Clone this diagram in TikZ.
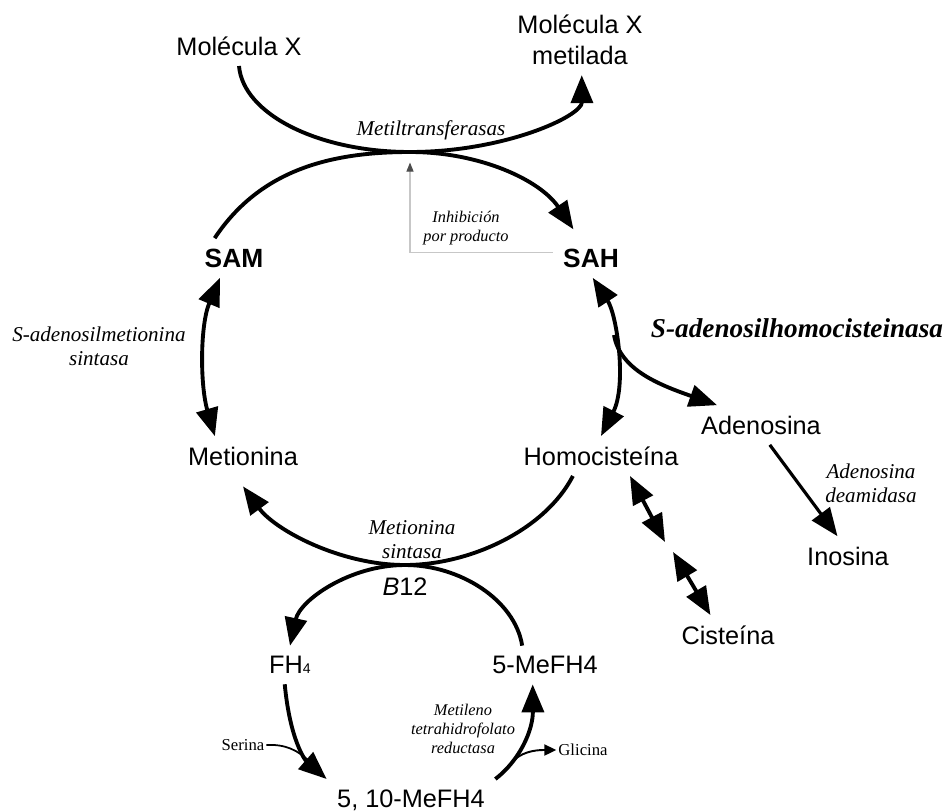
\documentclass[tikz,border=0pt]{standalone}
\usepackage{fontspec}
\setmainfont{Liberation Serif}
\setsansfont{Liberation Sans}
\usetikzlibrary{arrows.meta}

\begin{document}
\begin{tikzpicture}[x=0.02cm, y=-0.02cm,
      metab/.style={font=\sffamily\fontsize{14.4}{17.3}\selectfont,align=center,inner sep=2pt,outer sep=4pt},
      pool/.style={font=\sffamily\bfseries\fontsize{15}{18}\selectfont,inner sep=2pt,outer sep=4pt},
      enzyme/.style={font=\itshape\fontsize{12}{13.6}\selectfont,align=center},
      bigenzyme/.style={font=\bfseries\itshape\fontsize{15.5}{18}\selectfont},
      note/.style={font=\itshape\fontsize{9.3}{11}\selectfont,align=center},
      side/.style={font=\fontsize{9.5}{11}\selectfont,inner sep=1pt},
      flow/.style={line width=2.2pt,-{Triangle[length=5.6mm,width=4.4mm]}},
      both/.style={line width=2.2pt,{Triangle[length=5.6mm,width=4.4mm]}-{Triangle[length=5.6mm,width=4.4mm]}},
      feed/.style={line width=1pt},
      sidearrow/.style={line width=1.1pt,-{Triangle[length=2.4mm,width=2.2mm]}},
      inhib/.style={draw=black!22,line width=0.6pt,-{Triangle[length=1.8mm,width=1.4mm,color=black!70]}}]
    \useasboundingbox (0,0) rectangle (952,811);
    % metabolites
    \node[metab] (molx) at (239,46) {Molécula X};
    \node[metab] (molxm) at (580,40) {Molécula X\\metilada};
    \node[pool] (sam) at (234,258) {SAM};
    \node[pool] (sah) at (591,258) {SAH};
    \node[metab] (met) at (243,456) {Metionina};
    \node[metab] (hcy) at (601,456) {Homocisteína};
    \node[metab] (ado) at (761,425) {Adenosina};
    \node[metab] (ino) at (848,556) {Inosina};
    \node[metab] (cys) at (728,635) {Cisteína};
    \node[metab] (b12) at (405,587) {\textit{B}12};
    \node[metab] (fh4) at (290,665) {FH{\fontsize{8}{9}\selectfont 4}};
    \node[metab] (mefh) at (545,665) {5-MeFH4};
    \node[metab] (mthf) at (411,800) {5, 10-MeFH4};
    \node[side] (ser) at (243,745) {Serina};
    \node[side] (gly) at (583,750) {Glicina};
    % enzymes
    \node[enzyme] (mtase) at (431,130) {Metiltransferasas};
    \node[note] (inh) at (466,228) {Inhibición\\por producto};
    \node[enzyme] (mat) at (99,346) {S-adenosilmetionina\\sintasa};
    \node[bigenzyme] (ahcy) at (797,328) {S-adenosilhomocisteinasa};
    \node[enzyme] (ada) at (871,483) {Adenosina\\deamidasa};
    \node[enzyme] (msyn) at (412,540) {Metionina\\sintasa};
    \node[note] (mthfr) at (463,729) {Metileno\\tetrahidrofolato\\reductasa};
    % meeting points of the arcs
    \coordinate (mt) at (410,152);
    \coordinate (ms) at (405,565);
    \coordinate (br) at (614,335);
    \coordinate (cA) at (665,542);
    \coordinate (cB) at (673,552);
    \coordinate (sj) at (310,762);
    \coordinate (gj) at (514,760);
    % methylation cycle
    \draw[flow] (molx.south) .. controls (243,114) and (318,152) .. (mt) .. controls (505,152) and (582,116) .. ([xshift=1pt]molxm.south);
    \draw[flow] ([xshift=-11pt]sam.north) .. controls (260,170) and (330,152) .. (mt) .. controls (480,152) and (540,180) .. ([shift={(-10pt,5pt)}]sah.north);
    \draw[inhib] ([yshift=3pt]sah.west) -| ([yshift=-6pt]mt);
    \draw[both] ([xshift=-8pt]sam.south) .. controls (200,325) and (200,385) .. ([xshift=-16pt]met.north);
    \draw[both] ([xshift=1pt]sah.south) .. controls (617,315) and (627,385) .. (hcy.north);
    \draw[flow] (br) .. controls (620,370) and (660,385) .. ([xshift=-25pt]ado.north);
    \draw[flow,line width=1.8pt] ([xshift=5pt]ado.south) -- ([xshift=-6pt]ino.north);
    \draw[flow] ([xshift=-16pt]hcy.south) .. controls (545,530) and (470,565) .. (ms) .. controls (340,565) and (275,530) .. ([yshift=-6pt]met.south);
    \draw[both] ([xshift=16.5pt]hcy.south) -- (cA);
    \draw[both] (cB) -- ([xshift=-10pt]cys.north);
    % folate cycle
    \draw[flow] ([xshift=-13pt]mefh.north) .. controls (515,600) and (460,565) .. (ms) .. controls (350,565) and (300,600) .. (fh4.north);
    \draw[flow] ([xshift=-3pt]fh4.south) .. controls (290,740) and (305,760) .. (mthf.north west);
    \draw[feed] (ser.east) .. controls (285,744) and (298,750) .. (sj);
    \draw[flow] (mthf.north east) .. controls (520,760) and (533,730) .. ([xshift=-7pt]mefh.south);
    \draw[sidearrow] (gj) .. controls (525,750) and (540,750) .. (gly.west);
  \end{tikzpicture}
\end{document}
